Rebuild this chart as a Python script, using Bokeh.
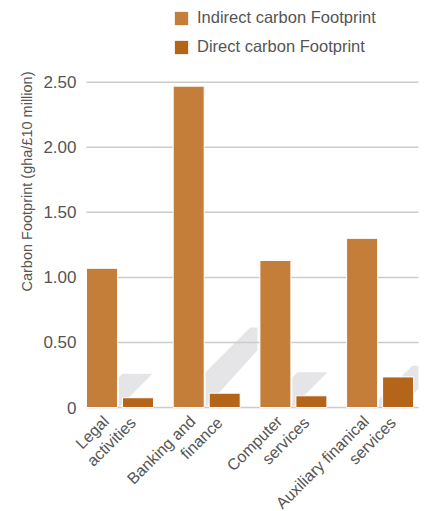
import math
import numpy as np
from bokeh.plotting import figure
from bokeh.models import Range1d, Legend, LegendItem, ColumnDataSource
from bokeh.core.properties import value
from bokeh.embed import file_html
from bokeh.resources import INLINE

# ---- data ----
categories = ["Legal\nactivities", "Banking and\nfinance", "Computer\nservices",
              "Auxiliary finanical\nservices"]
indirect = [1.07, 2.47, 1.13, 1.30]
direct = [0.075, 0.11, 0.09, 0.235]
y_ticks = [0, 0.5, 1.0, 1.5, 2.0, 2.5]
y_tick_labels = ["0", "0.50", "1.00", "1.50", "2.00", "2.50"]
series_names = ["Indirect carbon Footprint", "Direct carbon Footprint"]
y_title = "Carbon Footprint (gha/£10 million)"

# decorative shadow shapes
shadow_top = [0.26, 0.615, 0.27, 0.32]
shadow_drop = [0.26, 0.44, 0.27, 0.146]
shadow_right_px = [32.5, 50.8, 34.1, 39.4]

C_IND = "#C47E3A"
C_DIR = "#B5651A"
C_SHADOW = "#E5E5E7"
TXT = "#555555"
FONT = "Liberation Sans"

KX = 86.7   # px per group
KY = 130.1  # px per unit value
W, H = 428, 511
X0PX, BASE = 119.5, 407          # pixel position of first group centre / zero line
PLOT_L, PLOT_R = 86, 418         # plotting area (grid) extent in px


def px_x(px):
    return (px - X0PX) / KX


p = figure(width=W, height=H, output_backend="svg", toolbar_location=None,
           x_axis_location=None, y_axis_location=None,
           x_range=Range1d(px_x(0), px_x(W)),
           y_range=Range1d(-(H - BASE) / KY, BASE / KY),
           min_border=0)
p.outline_line_color = None
p.background_fill_color = "white"
p.xgrid.visible = False
p.ygrid.visible = False

groups = np.arange(len(categories))

# shadows
xs, ys = [], []
for g in groups:
    L, R, T = -1.0, shadow_right_px[g], 30.0
    top, drop = shadow_top[g] * KY, shadow_drop[g] * KY
    Rc = min(R, PLOT_R - X0PX - g * KX)
    pts = [(L, 0.0)]
    xl_top = R + (top - drop) - T
    if xl_top > L:
        h_a = drop + L + T - R
        pts += [(L, h_a), (xl_top, top)]
    else:
        pts += [(L, top)]
    pts += [(Rc, top), (Rc, drop), (max(R - drop, L), 0.0)]
    xs.append([g + px / KX for px, _ in pts])
    ys.append([h / KY for _, h in pts])
p.patches(xs=xs, ys=ys, fill_color=C_SHADOW, line_color=None, level="image")

# horizontal grid lines at the value ticks
p.segment(x0=px_x(PLOT_L), x1=px_x(PLOT_R), y0=y_ticks, y1=y_ticks,
          line_color="#cccccc", line_width=1.5, level="underlay")

# y tick labels
p.text(x=px_x(76), y=y_ticks, text=y_tick_labels, text_align="right",
       text_baseline="alphabetic", text_font=value(FONT),
       text_font_size="17px", text_color=TXT)

# y title
p.text(x=[px_x(26)], y=[(BASE - 181) / KY], text=[y_title], angle=math.pi / 2,
       text_align="center", text_baseline="middle", text_font=value(FONT),
       text_font_size="14.5px", text_color=TXT)

off = 18.0 / KX
bw = 31.0 / KX
src = ColumnDataSource(dict(xi=groups - off, xd=groups + off,
                            ind=indirect, dir=direct))
r1 = p.vbar(x="xi", top="ind", width=bw, source=src, fill_color=C_IND,
            line_color="white", line_width=1)
r2 = p.vbar(x="xd", top="dir", width=bw, source=src, fill_color=C_DIR,
            line_color="white", line_width=1)

# category labels (two lines, rotated 45 degrees)
line1 = [c.split("\n")[0] for c in categories]
line2 = [c.split("\n")[1] for c in categories]
lab = ColumnDataSource(dict(x1=groups - 14.0 / KX, y1=np.full(4, -11.0 / KY),
                            x2=groups + 13.0 / KX, y2=np.full(4, -12.5 / KY),
                            t1=line1, t2=line2))
for xk, yk, tk in (("x1", "y1", "t1"), ("x2", "y2", "t2")):
    p.text(x=xk, y=yk, text=tk, source=lab, angle=math.pi / 4,
           text_align="right", text_baseline="middle",
           text_font=value(FONT), text_font_size="16px", text_color=TXT)

legend = Legend(items=[LegendItem(label=series_names[0], renderers=[r1]),
                       LegendItem(label=series_names[1], renderers=[r2])],
                location=(172, H - 56), glyph_width=18, glyph_height=18,
                label_height=18, spacing=10, padding=0, margin=0,
                label_standoff=7, border_line_color=None,
                background_fill_alpha=0, label_text_font=FONT,
                label_text_font_size="16.5px", label_text_color=TXT)
p.add_layout(legend, "center")

open("out.html", "w").write(file_html(p, INLINE))
